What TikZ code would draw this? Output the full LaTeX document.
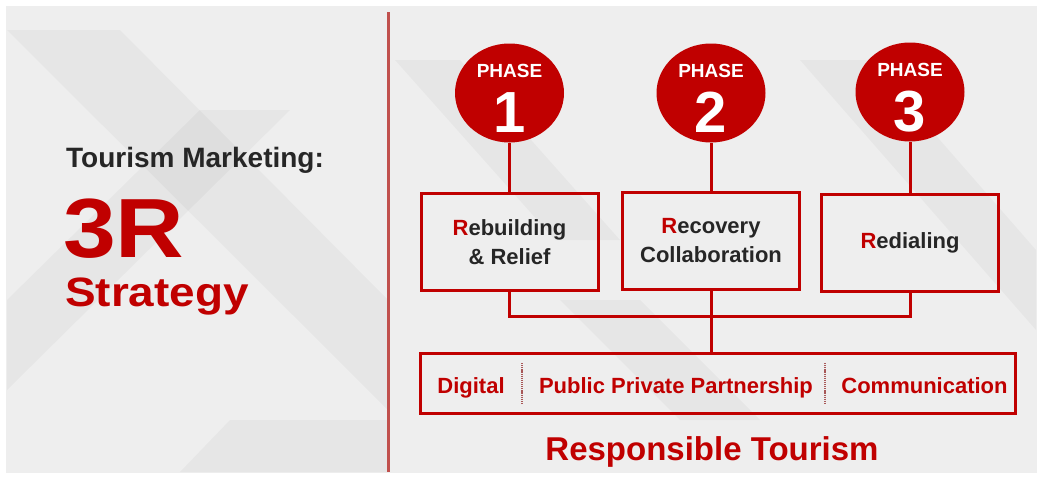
\documentclass[tikz,border=0pt]{standalone}
\usepackage{fontspec}
\setmainfont{Liberation Sans}
\usetikzlibrary{shapes.geometric, positioning, calc}
\definecolor{trred}{HTML}{C00000}
\definecolor{trdark}{HTML}{262626}
\definecolor{trline}{HTML}{C0504D}
\definecolor{trbg}{HTML}{EEEEEE}
\definecolor{trsep}{HTML}{A85858}
\newcommand{\fsz}[1]{\fontsize{#1}{#1}\selectfont}

\begin{document}
\begin{tikzpicture}[
  x=1pt, y=-1pt,
  phase/.style={ellipse, fill=trred, minimum width=109pt, minimum height=99pt, inner sep=0pt},
  phaselbl/.style={text=white, font=\bfseries\fsz{19}, anchor=base, inner sep=0pt},
  phasenum/.style={text=white, font=\bfseries\fsz{58}, anchor=base, inner sep=0pt},
  rbox/.style={rectangle, draw=trred, line width=3pt, minimum width=177pt, minimum height=97pt, align=center, text=trdark, font=\bfseries\fontsize{22}{29}\selectfont},
  bar/.style={rectangle, draw=trred, line width=3pt, minimum width=595pt, minimum height=60pt},
  bartxt/.style={text=trred, font=\bfseries\fsz{22}, anchor=base, inner sep=0pt},
  link/.style={draw=trred, line width=3pt},
  sep/.style={draw=trsep, line width=1.5pt, dash pattern=on 1.2pt off 0.9pt},
  divider/.style={draw=trline, line width=3pt},
  stripe/.style={fill=black, fill opacity=0.03}
]
  \useasboundingbox (0,0) rectangle (1042,479);
  % background
  \fill[white] (0,0) rectangle (1042,479);
  \fill[trbg] (6,6) rectangle (1037,473);
  \fill[stripe] (7,30) -- (120,30) -- (388,300) -- (388,410) -- cycle;
  \fill[stripe] (7,300) -- (200,110) -- (290,110) -- (7,390) -- cycle;
  \fill[stripe] (230,420) -- (388,420) -- (388,472) -- (180,472) -- cycle;
  \fill[stripe] (395,60) -- (460,60) -- (620,240) -- (555,240) -- cycle;
  \fill[stripe] (800,60) -- (870,60) -- (1036,250) -- (1036,330) -- cycle;
  \fill[stripe] (560,300) -- (640,300) -- (760,420) -- (680,420) -- cycle;

  % left title
  \node[anchor=base west, inner sep=0pt, text=trdark, font=\bfseries\fsz{28}] (ttl) at (66,167) {Tourism Marketing:};
  \node[anchor=base west, inner sep=0pt, text=trred, font=\bfseries\fsz{84}] (big) at (63,257) {\scalebox{1.13}[1]{3R}};
  \node[anchor=base west, inner sep=0pt, text=trred, font=\bfseries\fsz{41}] (strat) at (65,306) {\scalebox{1.12}[1]{Strategy}};

  \coordinate (dtop) at (388,12);
  \coordinate (dbot) at (388,472);
  \draw[divider] (dtop) -- (dbot);

  % phases
  \node[phase] (p1) at (509.5,93) {};
  \node[phase] (p2) at (711,93) {};
  \node[phase] (p3) at (910,92) {};
  \node[phaselbl] (p1t) at (509.5,77) {PHASE};
  \node[phaselbl] (p2t) at (711,77) {PHASE};
  \node[phaselbl] (p3t) at (910,76) {PHASE};
  \node[phasenum] (p1n) at (509.5,132) {1};
  \node[phasenum] (p2n) at (711,132) {2};
  \node[phasenum] (p3n) at (910,131) {3};

  % R boxes
  \node[rbox] (b1) at (509.5,242) {\textcolor{trred}{R}ebuilding\\\& Relief};
  \node[rbox] (b2) at (711,241) {\textcolor{trred}{R}ecovery\\Collaboration};
  \node[rbox] (b3) at (910,243) {\textcolor{trred}{R}edialing};

  \draw[link] (p1.south) -- (b1.north);
  \draw[link] (p2.south) -- (b2.north);
  \draw[link] (p3.south) -- (b3.north);

  \node[bar] (bar) at (717.5,383) {};
  \coordinate (bus) at (711,316);
  \draw[link] (b1.south) |- (bus) -| (b3.south);
  \draw[link] (b2.south) -- (b2.south |- bar.north);

  \node[bartxt] (dig) at (471,393) {Digital};
  \node[bartxt] (ppp) at (676,393) {Public Private Partnership};
  \node[bartxt] (com) at (924.5,393) {Communication};
  \coordinate (s1) at (522,363);
  \coordinate (s2) at (825,363);
  \draw[sep] (s1) -- ++(0,41);
  \draw[sep] (s2) -- ++(0,41);

  \node[anchor=base, inner sep=0pt, text=trred, font=\bfseries\fsz{33}] (resp) at (712,460) {Responsible Tourism};
\end{tikzpicture}
\end{document}
